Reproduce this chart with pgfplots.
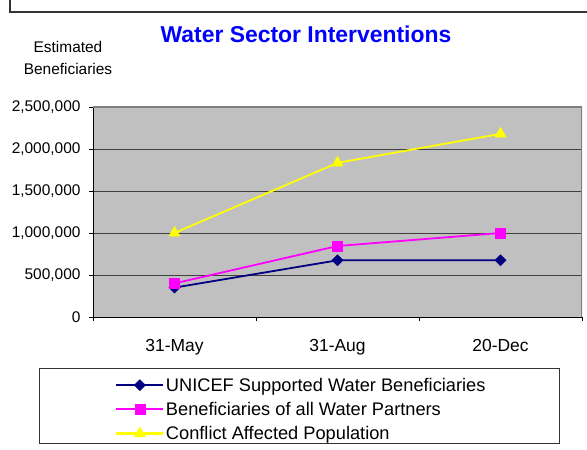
\documentclass[border=0pt]{standalone}
\usepackage{pgfplots}
\pgfplotsset{compat=1.18}
\usepackage{fontspec}
\setmainfont{Liberation Sans}
\definecolor{navy}{RGB}{0,0,128}
\definecolor{pinkm}{RGB}{255,0,255}
\definecolor{yel}{RGB}{255,255,0}
\definecolor{plotgray}{RGB}{192,192,192}
\definecolor{bordergray}{RGB}{128,128,128}
\begin{document}
\begin{tikzpicture}[x=1bp,y=1bp]
\useasboundingbox (0,0) rectangle (587,450);
\draw[line width=1.3bp, color=black!80] (10,450) -- (10,438) -- (587,438);
\node[font=\fontsize{23}{27}\selectfont\bfseries, text=blue] at (306,416) {Water Sector Interventions};
\node[align=center, font=\fontsize{15.5}{23}\selectfont] at (68,392) {Estimated\\Beneficiaries};
\begin{axis}[
  at={(93bp,133bp)}, anchor=south west,
  scale only axis, width=489bp, height=210bp,
  xmin=-0.5, xmax=2.5, ymin=0, ymax=2500000,
  axis background/.style={fill=plotgray},
  axis x line*=bottom, axis y line*=left,
  axis line style={black, line width=0.8bp},
  tick align=outside,
  major tick length=4bp,
  tick style={black, line width=0.8bp},
  xtick={-0.5,0.5,1.5,2.5}, xticklabels={},
  extra x ticks={0,1,2},
  extra x tick labels={31-May,31-Aug,20-Dec},
  extra x tick style={major tick length=0pt, tick style={draw=none}},
  xticklabel style={font=\fontsize{17.5}{19}\selectfont, yshift=-19bp},
  ytick={0,500000,1000000,1500000,2000000,2500000},
  yticklabel style={font=\fontsize{15.5}{18}\selectfont, xshift=-5bp},
  /pgf/number format/.cd, fixed, 1000 sep={,}, assume math mode=true,
  /pgfplots/.cd,
  scaled y ticks=false,
  ymajorgrids,
  major grid style={black!75, line width=0.7bp},
  legend style={at={(axis description cs:0.039,-0.272)}, anchor=north west,
    draw=none, fill=none, font=\fontsize{18.3}{20}\selectfont,
    row sep=6.5bp, nodes={inner sep=1.5bp}},
  legend cell align=left,
  legend image code/.code={\draw[mark repeat=2,mark phase=2,#1,line width=2.2bp] plot coordinates {(0bp,0bp) (23.5bp,0bp) (47bp,0bp)};},
]
\addplot[navy, line width=1.8bp, mark=diamond*, mark size=5.5bp, mark options={fill=navy, xscale=1.35, line width=0.5bp}]
  coordinates {(0,350000) (1,675000) (2,675000)};
\addlegendentry{UNICEF Supported Water Beneficiaries}
\addplot[pinkm, line width=1.8bp, mark=square*, mark size=5bp, mark options={fill=pinkm, line width=0.5bp}]
  coordinates {(0,400000) (1,845000) (2,1000000)};
\addlegendentry{Beneficiaries of all Water Partners}
\addplot[yel, line width=1.8bp, mark=triangle*, mark size=6.5bp, mark options={fill=yel, line width=0.5bp}]
  coordinates {(0,1000000) (1,1835000) (2,2180000)};
\addlegendentry{Conflict Affected Population}
\draw[bordergray, line width=1.2bp] (rel axis cs:0,1) -- (rel axis cs:1,1) -- (rel axis cs:1,0);
\end{axis}
\draw[black!80, line width=0.9bp] (39,7) rectangle (559,82);
\end{tikzpicture}
\end{document}
